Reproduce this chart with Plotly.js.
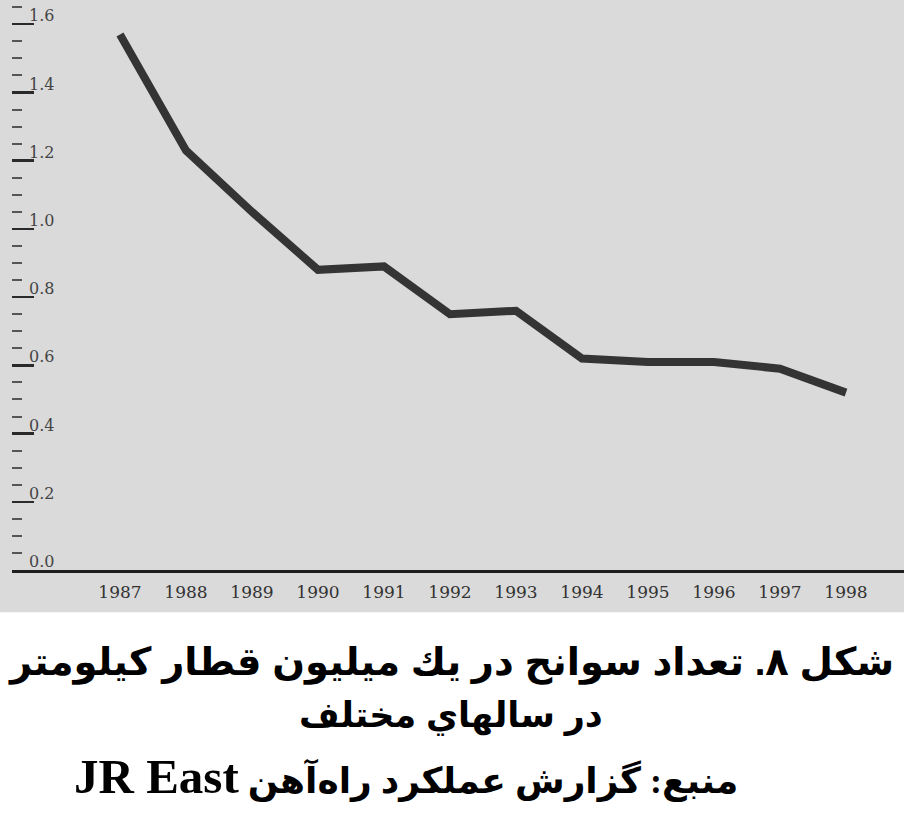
<!DOCTYPE html>
<html>
<head>
<meta charset="utf-8">
<script src="https://cdn.plot.ly/plotly-3.0.1.min.js"></script>
<style>html,body{margin:0;padding:0;background:#fff;}#chart{width:904px;height:834px;}</style>
</head>
<body>
<div id="chart"></div>
<script>
// Data
const years = [1987, 1988, 1989, 1990, 1991, 1992, 1993, 1994, 1995, 1996, 1997, 1998];
const accidentsPerMillionTrainKm = [1.57, 1.23, 1.05, 0.88, 0.89, 0.75, 0.76, 0.62, 0.61, 0.61, 0.59, 0.52];
const yTickVals = [0, 0.2, 0.4, 0.6, 0.8, 1.0, 1.2, 1.4, 1.6];
const yTickText = ["0.0", "0.2", "0.4", "0.6", "0.8", "1.0", "1.2", "1.4", "1.6"];
const xTickText = ["1987", "1988", "1989", "1990", "1991", "1992", "1993", "1994", "1995", "1996", "1997", "1998"];
const captionLine1 = "شكل ٨. تعداد سوانح در يك ميليون قطار كيلومتر";
const captionLine2 = "در سالهاي مختلف";
const captionLine3Fa = "منبع: گزارش عملكرد راه‌آهن";
const captionLine3En = "JR East";

const RLE = "\u202B", PDF = "\u202C";

const trace = {
  type: 'scatter',
  mode: 'lines',
  x: years,
  y: accidentsPerMillionTrainKm,
  line: {color: '#343434', width: 8},
  hoverinfo: 'skip',
  showlegend: false
};

const layout = {
  width: 904,
  height: 834,
  margin: {l: 12, r: 0, t: 0, b: 264, pad: 0},
  paper_bgcolor: '#ffffff',
  plot_bgcolor: 'rgba(0,0,0,0)',
  showlegend: false,
  xaxis: {
    range: [1985.364, 1998.879],
    tickmode: 'array',
    tickvals: years,
    ticktext: xTickText,
    ticks: '',
    ticklabelstandoff: 5,
    showgrid: false,
    zeroline: false,
    showline: true,
    linecolor: '#1e1e1e',
    linewidth: 3,
    tickfont: {family: 'DejaVu Serif, Liberation Serif, serif', size: 17, color: '#333333'},
    fixedrange: true
  },
  yaxis: {
    range: [0, 1.671],
    tickmode: 'array',
    tickvals: yTickVals,
    ticktext: yTickText,
    ticks: 'inside',
    ticklen: 22,
    tickwidth: 2.5,
    tickcolor: '#2a2a2a',
    ticklabelposition: 'inside top',
    ticklabeloverflow: 'allow',
    ticklabelstandoff: 14,
    ticklabelshift: 4,
    minor: {dtick: 0.05, tick0: 0, ticks: 'inside', ticklen: 10, tickwidth: 2, tickcolor: '#555555', showgrid: false},
    showgrid: false,
    zeroline: false,
    showline: false,
    tickfont: {family: 'DejaVu Serif, Liberation Serif, serif', size: 16, color: '#444444'},
    fixedrange: true
  },
  shapes: [{
    type: 'rect', xref: 'paper', yref: 'paper', layer: 'below',
    x0: -0.02, x1: 1.02, y0: -0.074, y1: 1.02,
    fillcolor: '#dadada', line: {width: 0}
  }],
  annotations: [
    {xref: 'paper', yref: 'paper', x: 0.4927, y: -0.163, xanchor: 'center', yanchor: 'middle', showarrow: false,
     text: '<b>' + RLE + captionLine1 + PDF + '</b>',
     font: {family: 'Liberation Sans, DejaVu Sans, sans-serif', size: 38.5, color: '#000'}},
    {xref: 'paper', yref: 'paper', x: 0.4927, y: -0.256, xanchor: 'center', yanchor: 'middle', showarrow: false,
     text: '<b>' + RLE + captionLine2 + PDF + '</b>',
     font: {family: 'Liberation Sans, DejaVu Sans, sans-serif', size: 35, color: '#000'}},
    {xref: 'paper', yref: 'paper', x: 0.4417, y: -0.363, xanchor: 'center', yanchor: 'middle', showarrow: false,
     text: '<b>' + RLE + captionLine3Fa + ' <span style="font-size:49px">' + captionLine3En + '</span>' + PDF + '</b>',
     font: {family: 'Liberation Serif, DejaVu Sans, serif', size: 36, color: '#000'}}
  ]
};

Plotly.newPlot('chart', [trace], layout, {displayModeBar: false, staticPlot: true});
</script>
</body>
</html>
